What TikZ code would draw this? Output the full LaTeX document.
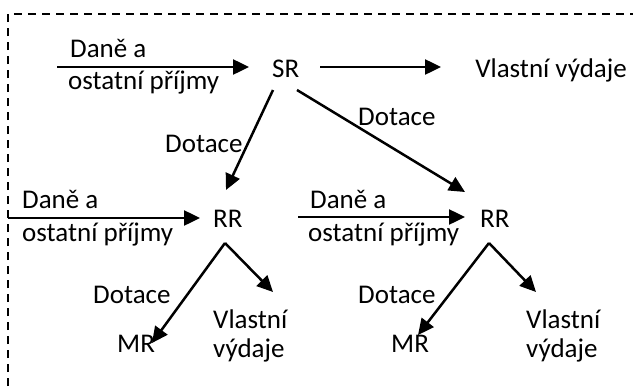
\documentclass[tikz,border=0pt]{standalone}
\usepackage{fontspec}
\setmainfont{Carlito}
\usetikzlibrary{arrows.meta}
\begin{document}
\begin{tikzpicture}[x=1pt,y=-1pt,
  lbl/.style={anchor=base west, inner sep=0pt, font=\fontsize{27}{32}\selectfont},
  flow/.style={line width=2.5pt, -{Triangle[length=16pt,width=15pt]}},
  frame/.style={line width=2pt, dash pattern=on 8pt off 6pt}]
\useasboundingbox (0,0) rectangle (633,391);
\clip (0,0) rectangle (633,391);
% frame
\coordinate (fTL) at (8,14);
\coordinate (fTR) at (640,14);
\coordinate (fBL) at (8,400);
\draw[frame] (fBL) -- (fTL) -- (fTR);

% top row
\node[lbl] (inAa) at (70,57) {Daně a};
\node[lbl] (inAb) at (68,89) {ostatní příjmy};
\node[lbl] (SR) at (272,77) {SR};
\node[lbl, anchor=base east] (VV) at (627,77) {Vlastní výdaje};
\coordinate (a1s) at (57,67);
\coordinate (a1e) at (249,67);
\coordinate (a2s) at (320,67);
\coordinate (a2e) at (441,67);
\draw[flow] (a1s) -- (a1e);
\draw[flow] (a2s) -- (a2e);

% Dotace from SR
\node[lbl] (dotL) at (165,152) {Dotace};
\node[lbl] (dotR) at (358,125) {Dotace};
\coordinate (srL) at (273,90);
\coordinate (srR) at (297,90);
\coordinate (rrLin) at (226,190);
\coordinate (rrRin) at (465,192);
\draw[flow] (srL) -- (rrLin);
\draw[flow] (srR) -- (rrRin);

% second row
\node[lbl] (inBa) at (22,208) {Daně a};
\node[lbl] (inBb) at (22,241) {ostatní příjmy};
\node[lbl] (RRL) at (213,227) {RR};
\node[lbl] (inCa) at (310,208) {Daně a};
\node[lbl] (inCb) at (308,241) {ostatní příjmy};
\node[lbl] (RRR) at (480,227) {RR};
\coordinate (b1s) at (8,218);
\coordinate (b1e) at (200,218);
\coordinate (b2s) at (298,217);
\coordinate (b2e) at (465,217);
\draw[flow] (b1s) -- (b1e);
\draw[flow] (b2s) -- (b2e);

% third row left
\node[lbl] (dotLL) at (93,303) {Dotace};
\node[lbl] (MRL) at (117,352) {MR};
\node[lbl] (VLa) at (213,328) {Vlastní};
\node[lbl] (VLb) at (213,357) {výdaje};
\coordinate (apL) at (225,243);
\coordinate (mrLtip) at (152,343);
\coordinate (vlLtip) at (273,292);
\draw[flow] (apL) -- (mrLtip);
\draw[flow] (apL) -- (vlLtip);

% third row right
\node[lbl] (dotRR) at (358,303) {Dotace};
\node[lbl] (MRR) at (391,352) {MR};
\node[lbl] (VRa) at (526,328) {Vlastní};
\node[lbl] (VRb) at (526,357) {výdaje};
\coordinate (apR) at (489,243);
\coordinate (mrRtip) at (418,335);
\coordinate (vlRtip) at (536,292);
\draw[flow] (apR) -- (mrRtip);
\draw[flow] (apR) -- (vlRtip);
\end{tikzpicture}
\end{document}
